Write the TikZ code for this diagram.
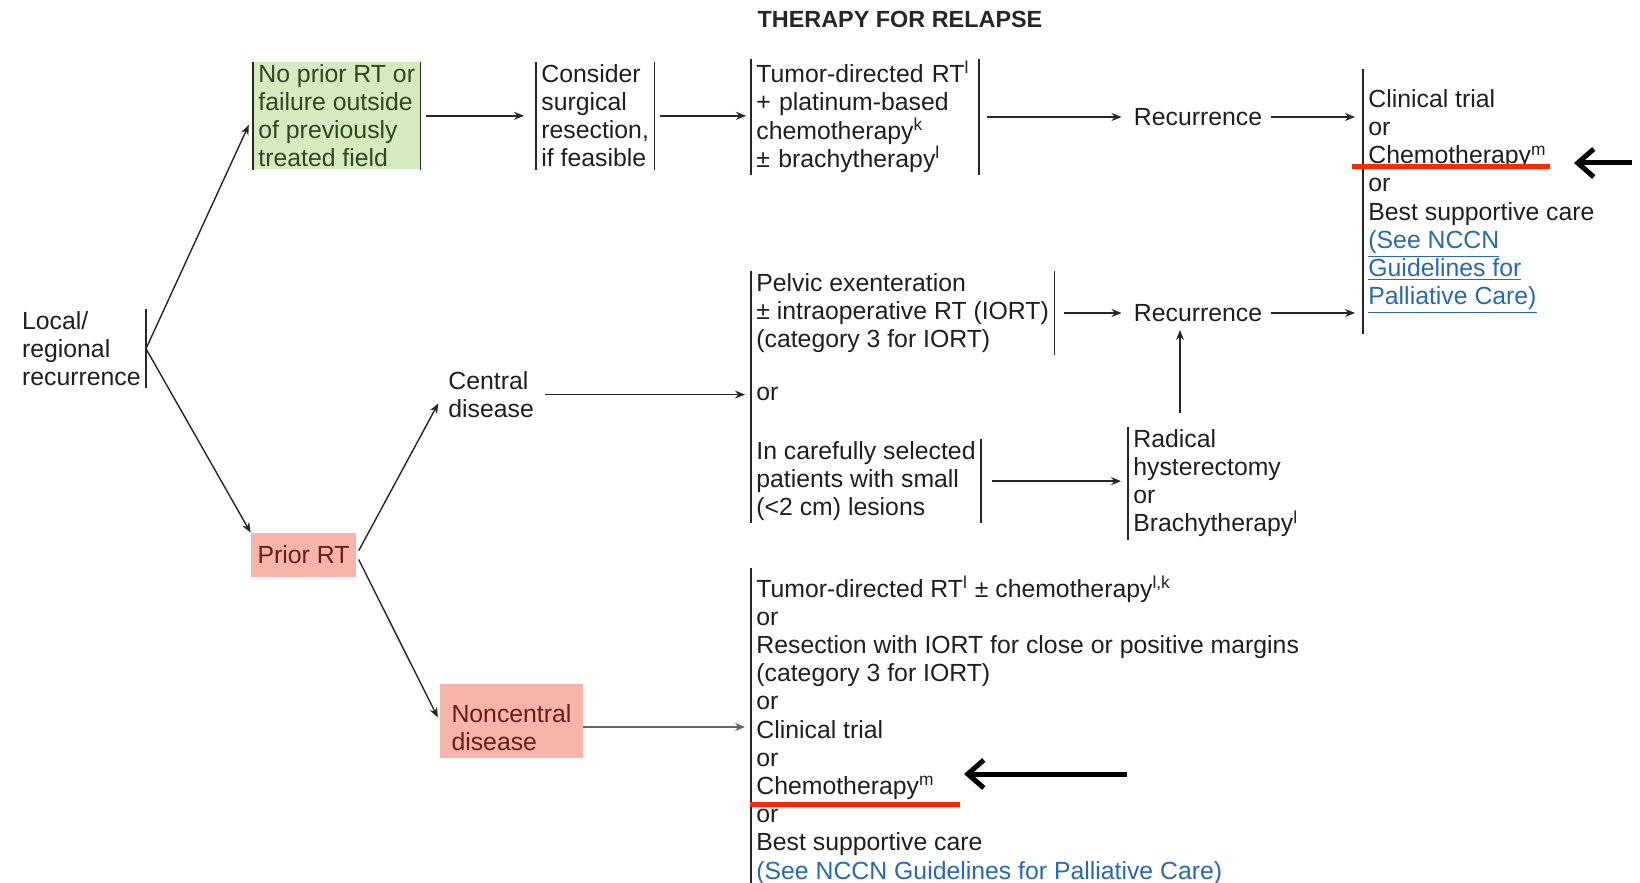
\documentclass[tikz,border=0pt]{standalone}
\usepackage{fontspec}
\setmainfont{Liberation Sans}
\usepackage{tikz}
\usetikzlibrary{arrows.meta}
\usetikzlibrary{calc}

\definecolor{nogreen}{RGB}{214,234,192}
\definecolor{nogreentext}{RGB}{45,72,35}
\definecolor{priorred}{RGB}{249,180,170}
\definecolor{priorredtext}{RGB}{105,28,28}
\definecolor{linkblue}{RGB}{40,105,175}
\definecolor{markred}{RGB}{255,40,0}

\begin{document}
\begin{tikzpicture}
    \newcommand{\sidebars}[1]{\draw[sidebar] (#1.north west)--(#1.south west) (#1.north east)--(#1.south east);}
    \newcommand{\leftbar}[1]{\draw[sidebar] (#1.north west)--(#1.south west);}
    \newcommand{\nccnlink}[1]{\textcolor{linkblue}{\underline{#1}}}
    \tikzstyle{sidebar}=[line width=0.75pt,draw=black!85]
    \tikzstyle{conn}=[line width=0.7pt,draw=black!85,shorten <=3pt,shorten >=3.5pt]
    \tikzstyle{dedge}=[conn,-{Stealth[length=5pt,width=4pt]}]
    \tikzstyle{txt}=[
      align=left,
      inner xsep=2.5pt,
      inner ysep=1pt,
      text=black!88,
      font=\fontsize{12.4}{14.1}\selectfont,
    ]
    \tikzstyle{box}=[
      txt,
      anchor=north west,
    ]
    \tikzstyle{heading}=[
      txt,
      text=black!85,
      font=\bfseries\fontsize{11.7}{14}\selectfont,
    ]
    \tikzstyle{greenbox}=[
      box,
      fill=nogreen,
      text=nogreentext,
    ]
    \tikzstyle{redbox}=[
      txt,
      fill=priorred,
      text=priorredtext,
    ]
    \tikzstyle{markline}=[line width=2.5pt,draw=markred]
    \tikzstyle{markarrow}=[line width=2.5pt,draw=black,-{Straight Barb[length=8pt,width=14pt]}]

    \coordinate (pageAnchor) at (0,0);
    \coordinate (topAnchor) at ([yshift=-31pt] pageAnchor);
    \coordinate (centralAnchor) at ([xshift=375.5pt, yshift=-135.5pt] pageAnchor);
    \coordinate (noncentralAnchor) at ([xshift=375.5pt, yshift=-284.2pt] pageAnchor);
    \path[use as bounding box, fill=white] (pageAnchor) rectangle ([xshift=820pt, yshift=-441.5pt] pageAnchor);

    % title
    \node[heading] (title) at ([xshift=450pt, yshift=-9.5pt] pageAnchor) {THERAPY FOR RELAPSE};

    % start
    {
      \node[txt, anchor=north east] (local) at ([xshift=73pt, yshift=-154.5pt] pageAnchor) {Local/\\regional\\recurrence};
      \draw[sidebar] (local.north east)--(local.south east);
      \node[redbox, minimum width=52.5pt, minimum height=22pt] (priorRT) at ([xshift=151.75pt, yshift=-277.5pt] pageAnchor) {Prior RT};
    }

    % no prior RT
    {
      \node[greenbox] (noPrior) at ([xshift=126.5pt] topAnchor) {No prior RT or\\failure outside\\of previously\\treated field};
      \node[box] (consider) at ([xshift=268pt] topAnchor) {Consider\\surgical\\resection,\\if feasible};
      \node[box, text width=108.5pt] (tumorRT) at ([xshift=375.5pt, yshift=1.5pt] topAnchor) {Tumor-directed RT\textsuperscript{l}\\+ platinum-based\\chemotherapy\textsuperscript{k}\\± brachytherapy\textsuperscript{l}};
      \node[txt] (recur1) at ([xshift=599pt, yshift=-58.5pt] pageAnchor) {Recurrence};
      \node[box, inner ysep=10pt] (options1) at ([xshift=681.5pt, yshift=-34.5pt] pageAnchor) {Clinical trial\\or\\Chemotherapy\textsuperscript{m}\\or\\Best supportive care\\\nccnlink{(See NCCN}\\\nccnlink{Guidelines for}\\\nccnlink{Palliative Care)}};

      \sidebars{noPrior}
      \sidebars{consider}
      \sidebars{tumorRT}
      \leftbar{options1}

      \draw[dedge, shorten <=0pt, shorten >=5pt] (local.east)--(noPrior.west);
      \draw[dedge, shorten >=6pt] (noPrior.east)--(noPrior.east -| consider.west);
      \draw[dedge, shorten >=2.5pt] (consider.east)--(consider.east -| tumorRT.west);
      \draw[dedge, shorten <=4pt] (tumorRT.east |- recur1)--(recur1.west);
      \draw[dedge, shorten <=1.5pt, shorten >=4pt] (recur1.east)--(recur1.east -| options1.west);
    }

    % central disease
    {
      \node[box] (central) at ([xshift=221.5pt, yshift=-184.5pt] pageAnchor) {Central\\disease};
      \node[box] (pelvic) at (centralAnchor) {Pelvic exenteration\\± intraoperative RT (IORT)\\(category 3 for IORT)};
      \node[txt, anchor=west] (centralOr) at ([yshift=-61.5pt] centralAnchor) {or};
      \node[box] (careful) at ([yshift=-84pt] centralAnchor) {In carefully selected\\patients with small\\(<2 cm) lesions};
      \node[txt] (recur2) at ([xshift=599pt, yshift=-156.5pt] pageAnchor) {Recurrence};
      \node[box] (radical) at ([xshift=564pt, yshift=-213.5pt] pageAnchor) {Radical\\hysterectomy\\or\\Brachytherapy\textsuperscript{l}};
      \coordinate (radicalFoot) at ([xshift=26pt] radical.north west);

      \draw[sidebar] (pelvic.north west)--(careful.south west);
      \draw[sidebar] (pelvic.north east)--(pelvic.south east);
      \draw[sidebar] (careful.north east)--(careful.south east);
      \leftbar{radical}

      \draw[dedge, shorten <=0pt, shorten >=0pt] (local.east)--(priorRT.north west);
      \draw[dedge, shorten <=2.5pt, shorten >=5pt] (priorRT.east)--(central.west);
      \draw[dedge, shorten >=3pt] (central.east)--(central.east -| centralOr.west);
      \draw[dedge, shorten <=5pt] (pelvic.east |- recur2)--(recur2.west);
      \draw[dedge, shorten <=1.5pt, shorten >=4pt] (recur2.east)--(recur2.east -| options1.west);
      \draw[dedge, shorten <=5.5pt] (careful.east)--(careful.east -| radical.west);
      \draw[dedge, shorten <=7pt, shorten >=3pt] (radicalFoot)--(radicalFoot |- recur2.south);
    }

    % noncentral disease
    {
      \node[redbox, minimum width=71.5pt, minimum height=37pt] (noncentral) at ([xshift=255.75pt, yshift=-360.5pt] pageAnchor) {\rule{0pt}{15.4pt}Noncentral\\disease};
      \coordinate (noncentralOut) at ([yshift=-3pt] noncentral.east);
      \node[box, inner ysep=3.5pt] (options2) at (noncentralAnchor) {Tumor-directed RT\textsuperscript{l} ± chemotherapy\textsuperscript{l,k}\\or\\Resection with IORT for close or positive margins\\(category 3 for IORT)\\or\\Clinical trial\\or\\Chemotherapy\textsuperscript{m}\\or\\Best supportive care\\\nccnlink{(See NCCN Guidelines for Palliative Care)}};
      \leftbar{options2}

      \draw[dedge, shorten <=2.5pt, shorten >=2pt] (priorRT.east)--(noncentral.west);
      \draw[dedge, draw=black!60, shorten <=0pt, shorten >=3pt] (noncentralOut)--(noncentralOut -| options2.west);
    }

    % highlights
    {
      \coordinate (markTopL) at ([xshift=676pt, yshift=-83.5pt] pageAnchor);
      \coordinate (markTopR) at ([xshift=775pt, yshift=-83.5pt] pageAnchor);
      \coordinate (arrowTopTail) at ([xshift=816pt, yshift=-81.5pt] pageAnchor);
      \coordinate (arrowTopTip) at ([xshift=787pt, yshift=-81.5pt] pageAnchor);
      \coordinate (markLowL) at ([xshift=375pt, yshift=-402pt] pageAnchor);
      \coordinate (markLowR) at ([xshift=480pt, yshift=-402pt] pageAnchor);
      \coordinate (arrowLowTail) at ([xshift=563.5pt, yshift=-387pt] pageAnchor);
      \coordinate (arrowLowTip) at ([xshift=482pt, yshift=-387pt] pageAnchor);

      \draw[markline] (markTopL)--(markTopR);
      \draw[markline] (markLowL)--(markLowR);
      \draw[markarrow] (arrowTopTail)--(arrowTopTip);
      \draw[markarrow] (arrowLowTail)--(arrowLowTip);
    }
\end{tikzpicture}
\end{document}
